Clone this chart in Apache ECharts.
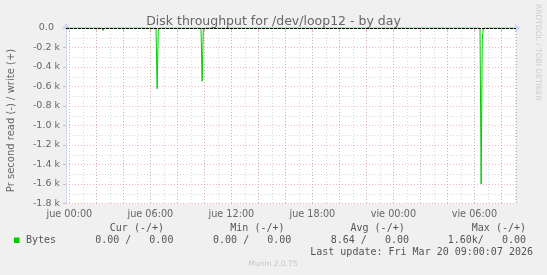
<!DOCTYPE html>
<html><head><meta charset="utf-8">
<script src="https://cdn.jsdelivr.net/npm/echarts@6/dist/echarts.min.js"></script>
<style>html,body{margin:0;padding:0;background:#f0f0f0}#c{width:547px;height:275px}</style>
</head><body><div id="c"></div>
<script>
const chartTitle = 'Disk throughput for /dev/loop12 - by day';
const yAxisName = 'Pr second read (-) / write (+)';
const timeRange = ['2026-03-18T23:45:00Z', '2026-03-20T09:05:00Z'];
const times = [
  '2026-03-18T23:45:00Z', '2026-03-19T02:25:00Z', '2026-03-19T02:30:00Z', '2026-03-19T02:35:00Z',
  '2026-03-19T06:25:00Z', '2026-03-19T06:30:00Z', '2026-03-19T06:35:00Z', '2026-03-19T06:40:00Z',
  '2026-03-19T09:45:00Z', '2026-03-19T09:50:00Z', '2026-03-19T09:55:00Z', '2026-03-19T10:00:00Z',
  '2026-03-20T06:25:00Z', '2026-03-20T06:30:00Z', '2026-03-20T06:35:00Z', '2026-03-20T06:40:00Z',
  '2026-03-20T09:00:00Z'
];
const readValues = [
  0, 0, -25, 0,
  0, -623, -30, 0,
  0, -547, -25, 0,
  0, -1600, -120, 0,
  0
];
const yMin = -1800, yMax = 0, yStep = 200;
const dayNames = ['dom', 'lun', 'mar', 'mié', 'jue', 'vie', 'sáb'];
const seriesName = 'Bytes';
const statHeaders = ['Cur (-/+)', 'Min (-/+)', 'Avg (-/+)', 'Max (-/+)'];
const statValues = ['0.00 /   0.00', '0.00 /   0.00', '8.64 /   0.00', '1.60k/   0.00'];
const lastUpdate = 'Last update: Fri Mar 20 09:00:07 2026';
const footer = 'Munin 2.0.75';
const sideText = 'RRDTOOL / TOBI OETIKER';

const H = 3600 * 1000;
const FONT = '#666666';
const AXIS = '#CFD6F8';
const MGRID = 'rgba(235,110,110,0.5)';
const GRID = 'rgba(170,170,170,0.45)';
const pad = n => (n < 10 ? '0' : '') + n;

const chart = echarts.init(document.getElementById('c'), null, {renderer: 'canvas'});
const mono = '10px "DejaVu Sans Mono"';
const headerRight = [164, 284.5, 404.7, 526];
const valueRight = [173.4, 291.3, 409, 526];
const graphics = [
  {type: 'rect', shape: {x: 14, y: 237.5, width: 5.5, height: 5.5}, style: {fill: '#00cc00'}},
  {type: 'text', x: 26, y: 240.5, style: {text: seriesName, font: mono, fill: '#555', textAlign: 'left', textVerticalAlign: 'middle'}},
  {type: 'text', x: 533, y: 252, style: {text: lastUpdate, font: mono, fill: '#555', textAlign: 'right', textVerticalAlign: 'middle'}},
  {type: 'text', x: 273, y: 264, style: {text: footer, font: '7.5px "DejaVu Sans"', fill: '#c4c4c4', textAlign: 'center', textVerticalAlign: 'middle'}},
  {type: 'text', x: 537.5, y: 4, rotation: -Math.PI / 2, style: {text: sideText, font: '7.5px "DejaVu Sans"', fill: '#cccccc', textAlign: 'left', textVerticalAlign: 'middle'}},
  {type: 'text', x: 11, y: 120.5, rotation: Math.PI / 2, style: {text: yAxisName, font: '10px "DejaVu Sans"', fill: FONT, textAlign: 'center', textVerticalAlign: 'middle'}}
];
statHeaders.forEach((t, i) => graphics.push({type: 'text', x: headerRight[i], y: 228, style: {text: t, font: mono, fill: '#555', textAlign: 'right', textVerticalAlign: 'middle'}}));
statValues.forEach((t, i) => graphics.push({type: 'text', x: valueRight[i], y: 240.5, style: {text: t, font: mono, fill: '#555', textAlign: 'right', textVerticalAlign: 'middle'}}));

const tMin = Date.parse(timeRange[0]), tMax = Date.parse(timeRange[1]);

chart.setOption({
  useUTC: true,
  backgroundColor: '#f0f0f0',
  animation: false,
  title: {text: chartTitle, left: 'center', top: 10, textStyle: {fontFamily: 'DejaVu Sans', fontSize: 12.5, fontWeight: 'normal', color: FONT}},
  grid: {left: 66, right: 31, top: 28, bottom: 71.5, show: true, backgroundColor: '#ffffff', borderWidth: 0},
  xAxis: [
    {
      type: 'time', min: tMin, max: tMax, minInterval: 3 * H, maxInterval: 3 * H,
      axisLine: {show: true, lineStyle: {color: AXIS, width: 1}, symbol: ['none', 'arrow'], symbolSize: [7, 7], symbolOffset: [0, 5]},
      axisTick: {show: true, length: 3, lineStyle: {color: MGRID}},
      splitLine: {show: true, lineStyle: {color: MGRID, type: [1, 2], width: 1}},
      axisLabel: {
        margin: 6, color: FONT, fontFamily: 'DejaVu Sans', fontSize: 9.7, showMinLabel: false, showMaxLabel: false, hideOverlap: false,
        formatter: function (v) {
          const d = new Date(v);
          if (d.getUTCHours() % 6 !== 0 || d.getUTCMinutes() !== 0) return '';
          return dayNames[d.getUTCDay()] + ' ' + pad(d.getUTCHours()) + ':00';
        }
      }
    },
    {
      type: 'time', min: tMin, max: tMax, minInterval: H, maxInterval: H, position: 'bottom',
      axisLine: {show: false}, axisTick: {show: false}, axisLabel: {show: false},
      splitLine: {show: true, lineStyle: {color: GRID, type: [1, 2], width: 1}}
    }
  ],
  yAxis: {
    type: 'value', min: yMin, max: yMax, interval: yStep,
    axisLine: {show: true, lineStyle: {color: AXIS, width: 1}, symbol: ['none', 'arrow'], symbolSize: [7, 7], symbolOffset: [0, 5]},
    axisTick: {show: true, length: 3, lineStyle: {color: MGRID}},
    splitLine: {show: true, lineStyle: {color: MGRID, type: [1, 2], width: 1}},
    minorTick: {show: false, splitNumber: 2},
    minorSplitLine: {show: true, lineStyle: {color: GRID, type: [1, 2], width: 1}},
    axisLabel: {
      margin: 6, color: FONT, fontFamily: 'DejaVu Sans', fontSize: 9.5,
      formatter: v => v === 0 ? '0.0  ' : (v / 1000).toFixed(1) + ' k'
    }
  },
  series: [{
    name: seriesName, type: 'line', xAxisIndex: 0, showSymbol: false, symbol: 'none',
    lineStyle: {color: '#00cc00', width: 1}, itemStyle: {color: '#00cc00'},
    data: times.map((t, i) => [Date.parse(t), readValues[i]]),
    markLine: {silent: true, symbol: 'none', label: {show: false}, lineStyle: {color: '#000', type: [3, 1], width: 1}, data: [{yAxis: 0}]}
  }],
  graphic: graphics
});
</script></body></html>
